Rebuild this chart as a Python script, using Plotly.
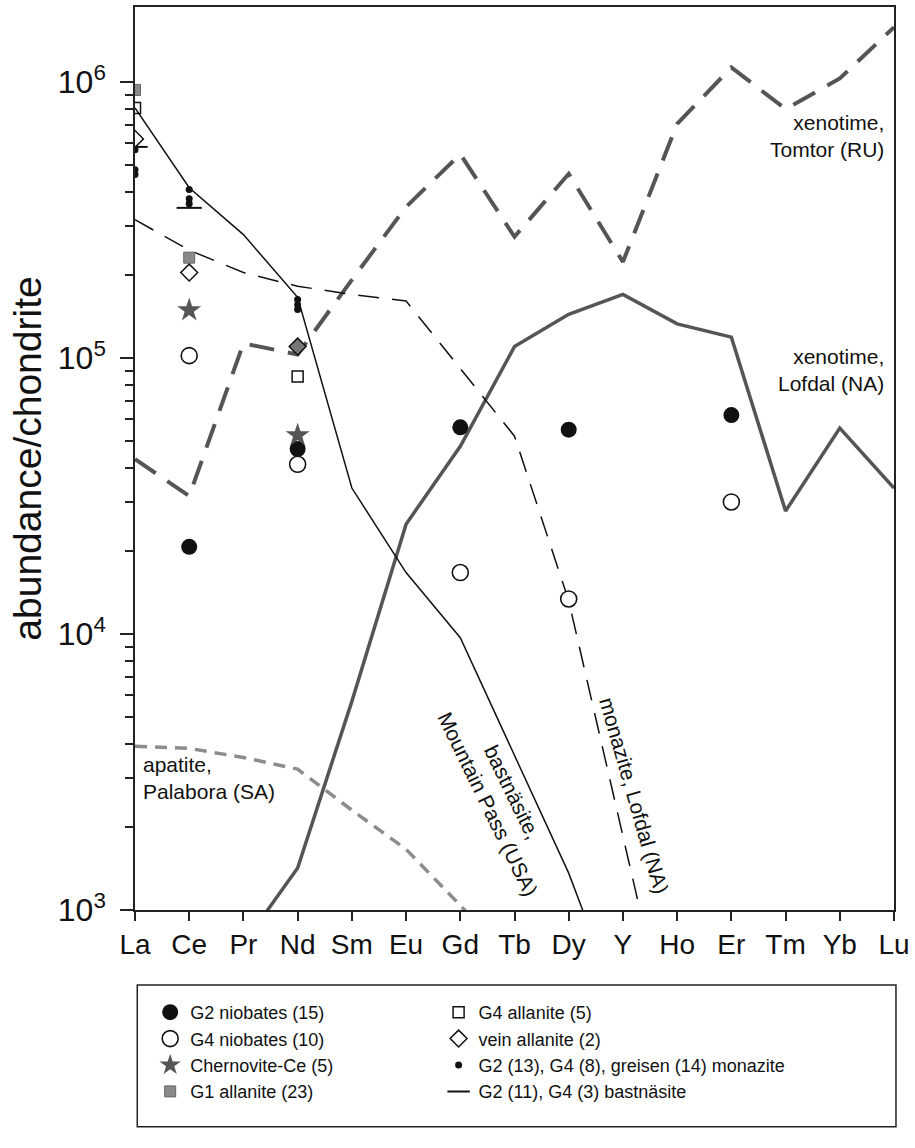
import math
import plotly.graph_objects as go

# ---------------- data ----------------
elements = ["La", "Ce", "Pr", "Nd", "Sm", "Eu", "Gd", "Tb", "Dy", "Y", "Ho", "Er", "Tm", "Yb", "Lu"]

# reference patterns (lines)
bast_mp_el = ["La", "Ce", "Pr", "Nd", "Sm", "Eu", "Gd", "Tb", "Dy", "Y"]
bast_mp = [8.05e5, 4.14e5, 2.80e5, 1.66e5, 3.38e4, 1.67e4, 9.7e3, 3.63e3, 1.36e3, 410]

mon_lofdal_el = ["La", "Ce", "Pr", "Nd", "Sm", "Eu", "Gd", "Tb", "Dy", "Y", "Ho"]
mon_lofdal = [3.17e5, 2.46e5, 2.04e5, 1.82e5, 1.70e5, 1.61e5, 9.16e4, 5.21e4, 1.32e4, 1.84e3, 260]

xeno_tomtor_el = elements
xeno_tomtor = [4.3e4, 3.16e4, 1.13e5, 1.03e5, 1.92e5, 3.53e5, 5.48e5, 2.75e5, 4.65e5,
               2.23e5, 7.05e5, 1.13e6, 7.98e5, 1.03e6, 1.58e6]

xeno_lofdal_el = ["Pr", "Nd", "Sm", "Eu", "Gd", "Tb", "Dy", "Y", "Ho", "Er", "Tm", "Yb", "Lu"]
xeno_lofdal = [753, 1.42e3, 5.7e3, 2.5e4, 4.79e4, 1.10e5, 1.44e5, 1.70e5, 1.33e5, 1.19e5,
               2.79e4, 5.57e4, 3.38e4]

apatite_el = ["La", "Ce", "Pr", "Nd", "Sm", "Eu", "Gd", "Tb"]
apatite = [3.92e3, 3.85e3, 3.57e3, 3.24e3, 2.30e3, 1.66e3, 1.04e3, 630]

# sample data (markers)
g2_niob_el = ["Ce", "Nd", "Gd", "Dy", "Er"]
g2_niob = [2.07e4, 4.68e4, 5.61e4, 5.50e4, 6.21e4]

g4_niob_el = ["Ce", "Nd", "Gd", "Dy", "Er"]
g4_niob = [1.02e5, 4.12e4, 1.67e4, 1.34e4, 3.01e4]

chern_el = ["Ce", "Nd"]
chern = [1.49e5, 5.25e4]

g1_allan_el = ["La", "Ce"]
g1_allan = [9.36e5, 2.31e5]

g4_allan_el = ["La", "Nd"]
g4_allan = [8.05e5, 8.57e4]

vein_allan_el = ["La", "Ce", "Nd"]
vein_allan = [6.22e5, 2.04e5, 1.10e5]

monaz_el = ["La", "La", "La", "Ce", "Ce", "Ce", "Nd", "Nd", "Nd"]
monaz = [5.68e5, 4.81e5, 4.62e5, 4.08e5, 3.78e5, 3.62e5, 1.63e5, 1.56e5, 1.50e5]

bastn_el = ["La", "Ce"]
bastn = [5.82e5, 3.50e5]

y_major = [1e3, 1e4, 1e5, 1e6]
y_major_text = ["10<sup>3</sup>", "10<sup>4</sup>", "10<sup>5</sup>", "10<sup>6</sup>"]
y_top = 1.87e6


def xi(els):
    return [elements.index(e) for e in els]


fig = go.Figure()

SANS = "Liberation Sans, Arial, sans-serif"

# ---- reference lines ----
fig.add_trace(go.Scatter(x=xi(xeno_tomtor_el), y=xeno_tomtor, mode="lines", showlegend=False,
                         line=dict(color="#555555", width=4, dash="25px,14px")))
fig.add_trace(go.Scatter(x=xi(xeno_lofdal_el), y=xeno_lofdal, mode="lines", showlegend=False,
                         line=dict(color="#555555", width=3.5)))
fig.add_trace(go.Scatter(x=xi(apatite_el), y=apatite, mode="lines", showlegend=False,
                         line=dict(color="#8c8c8c", width=3.5, dash="12px,8px")))
fig.add_trace(go.Scatter(x=xi(mon_lofdal_el), y=mon_lofdal, mode="lines", showlegend=False,
                         line=dict(color="#111111", width=1.5, dash="21px,13px")))
fig.add_trace(go.Scatter(x=xi(bast_mp_el), y=bast_mp, mode="lines", showlegend=False,
                         line=dict(color="#111111", width=1.5)))

# ---- sample markers: column 1 of the legend ----
fig.add_trace(go.Scatter(x=xi(g2_niob_el), y=g2_niob, mode="markers", name="G2 niobates (15)",
                         legend="legend",
                         marker=dict(symbol="circle", size=16, color="#111111")))
fig.add_trace(go.Scatter(x=xi(g4_niob_el), y=g4_niob, mode="markers", name="G4 niobates (10)",
                         legend="legend",
                         marker=dict(symbol="circle", size=16, color="white",
                                     line=dict(color="#111111", width=1.6))))
fig.add_trace(go.Scatter(x=xi(chern_el), y=chern, mode="markers", name="Chernovite-Ce (5)",
                         legend="legend",
                         marker=dict(symbol="star", size=18, color="#555555")))
fig.add_trace(go.Scatter(x=xi(g1_allan_el), y=g1_allan, mode="markers", name="G1 allanite (23)",
                         legend="legend",
                         marker=dict(symbol="square", size=11, color="#8a8a8a",
                                     line=dict(color="#666666", width=1))))
# ---- column 2 ----
fig.add_trace(go.Scatter(x=xi(g4_allan_el), y=g4_allan, mode="markers", name="G4 allanite (5)",
                         legend="legend2",
                         marker=dict(symbol="square-open", size=11, color="#111111", line=dict(width=1.5))))
fig.add_trace(go.Scatter(x=xi(vein_allan_el), y=vein_allan, mode="markers", name="vein allanite (2)",
                         legend="legend2",
                         marker=dict(symbol="diamond", size=13, color=["white", "white", "#777777"],
                                     line=dict(color="#111111", width=1.5))))
fig.add_trace(go.Scatter(x=xi(monaz_el), y=monaz, mode="markers",
                         name="G2 (13), G4 (8), greisen (14) monazite", legend="legend2",
                         marker=dict(symbol="circle", size=7, color="#111111")))
fig.add_trace(go.Scatter(x=xi(bastn_el), y=bastn, mode="markers", name="G2 (11), G4 (3) bastnäsite",
                         legend="legend2",
                         marker=dict(symbol="line-ew", size=18, color="#111111",
                                     line=dict(color="#111111", width=2))))

# minor tick values on the log axis
minor_vals = []
for dec in range(3, 7):
    for m in range(2, 10):
        v = m * 10 ** dec
        if v < y_top:
            minor_vals.append(v)

fig.update_xaxes(range=[0, 14], tickmode="array", tickvals=list(range(len(elements))), ticktext=elements,
                 ticks="outside", ticklen=9, tickwidth=1.5, tickcolor="#222222",
                 showline=True, linecolor="#222222", linewidth=1.5, mirror=True,
                 showgrid=False, zeroline=False,
                 tickfont=dict(family=SANS, size=28, color="#111111"))
fig.update_yaxes(type="log", range=[3, math.log10(y_top)], tickmode="array",
                 tickvals=y_major, ticktext=y_major_text,
                 ticks="outside", ticklen=13, tickwidth=1.5, tickcolor="#222222",
                 showline=True, linecolor="#222222", linewidth=1.5, mirror=True,
                 showgrid=False, zeroline=False, ticklabelstandoff=8,
                 tickfont=dict(family=SANS, size=32, color="#111111"),
                 minor=dict(tickmode="array", tickvals=minor_vals, ticks="outside", ticklen=8,
                            tickwidth=1.5, tickcolor="#222222", showgrid=False),
                 title=dict(text="abundance/chondrite", font=dict(family=SANS, size=39, color="#111111"),
                            standoff=4))


def px_x(px):
    return (px - 135) / 54.5


def px_y(py):
    return 3 + (910 - py) / 276.7


ann_font = dict(family=SANS, size=21, color="#111111")
fig.add_annotation(x=px_x(890), y=px_y(134), text="xenotime,<br>Tomtor (RU)", showarrow=False,
                   xanchor="right", align="right", font=ann_font)
fig.add_annotation(x=px_x(890), y=px_y(369), text="xenotime,<br>Lofdal (NA)", showarrow=False,
                   xanchor="right", align="right", font=ann_font)
fig.add_annotation(x=px_x(141), y=px_y(778), text="apatite,<br>Palabora (SA)", showarrow=False,
                   xanchor="left", align="left", font=ann_font)
fig.add_annotation(x=px_x(502), y=px_y(798), text="bastnäsite,<br>Mountain Pass (USA)", showarrow=False,
                   textangle=64, align="center", font=ann_font)
fig.add_annotation(x=px_x(637), y=px_y(795), text="monazite, Lofdal (NA)", showarrow=False,
                   textangle=74, align="center", font=ann_font)

# legend box
fig.add_shape(type="rect", xref="paper", yref="paper", x0=0.003, x1=1.0026, y0=-0.240, y1=-0.083,
              line=dict(color="#222222", width=1.5))

leg_common = dict(orientation="v", xanchor="left", yanchor="top", traceorder="normal",
                  font=dict(family=SANS, size=18, color="#111111"), bgcolor="rgba(0,0,0,0)",
                  itemsizing="trace", tracegroupgap=0)

fig.update_layout(
    width=915, height=1148, autosize=False,
    margin=dict(l=135, r=17, t=5, b=238),
    plot_bgcolor="white", paper_bgcolor="white",
    legend=dict(x=0.02, y=-0.093, **leg_common),
    legend2=dict(x=0.40, y=-0.093, **leg_common),
)

fig.write_html("out.html")
